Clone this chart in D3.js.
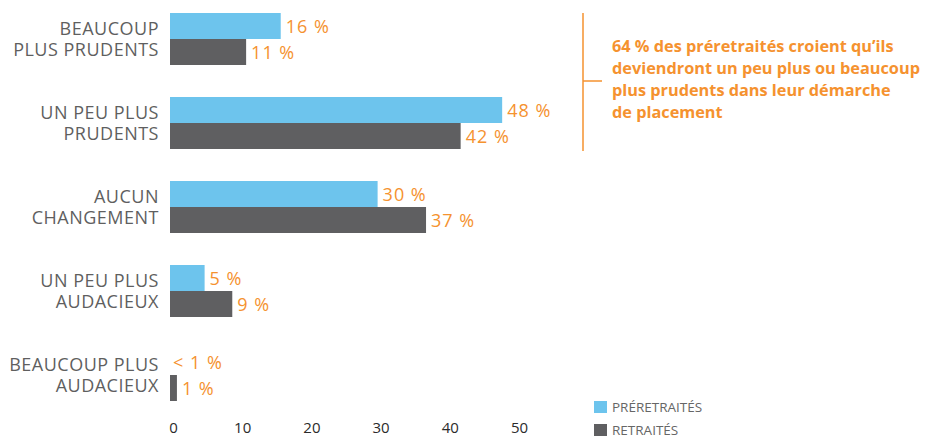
<!DOCTYPE html>
<html>
<head>
<meta charset="utf-8">
<script src="https://d3js.org/d3.v7.min.js"></script>
<style>
  body { margin: 0; background: #fff; }
  svg { font-family: "Open Sans", sans-serif; }
</style>
</head>
<body>
<svg width="930" height="439"></svg>
<script>
// categories (two lines each)
let categories = [
  ['BEAUCOUP', 'PLUS PRUDENTS'],
  ['UN PEU PLUS', 'PRUDENTS'],
  ['AUCUN', 'CHANGEMENT'],
  ['UN PEU PLUS', 'AUDACIEUX'],
  ['BEAUCOUP PLUS', 'AUDACIEUX']
]
let series = ['PRÉRETRAITÉS', 'RETRAITÉS']
let preretraites = [16, 48, 30, 5, 0]
let retraites = [11, 42, 37, 9, 1]
let preretraitesLabels = ['16 %', '48 %', '30 %', '5 %', '< 1 %']
let retraitesLabels = ['11 %', '42 %', '37 %', '9 %', '1 %']
let ticks = [0, 10, 20, 30, 40, 50]
let note = [
  '64 % des préretraités croient qu’ils',
  'deviendront un peu plus ou beaucoup',
  'plus prudents dans leur démarche',
  'de placement'
]

let colors = ['#6dc4ed', '#5f5f61']
let orange = '#f5922f'

let rows = categories.map((c, i) => ({
  key: i,
  lines: c,
  values: [
    { s: 0, v: preretraites[i], label: preretraitesLabels[i] },
    { s: 1, v: retraites[i], label: retraitesLabels[i] }
  ]
}))

let svg = d3.select('svg')

let xScale = d3.scaleLinear()
                .domain([0, 50])
                .range([170, 516])

let yScale = d3.scaleBand()
                .domain(rows.map(d => d.key))
                .range([13, 401])
                .paddingInner(32 / 84)
                .paddingOuter(0)

let subScale = d3.scaleBand()
                .domain([0, 1])
                .range([0, yScale.bandwidth()])

let groups = svg.selectAll('g.row')
  .data(rows)
  .enter()
  .append('g')
    .attr('class', 'row')
    .attr('transform', d => `translate(0, ${yScale(d.key)})`)

groups.selectAll('rect')
  .data(d => d.values)
  .enter()
  .append('rect')
    .attr('x', xScale(0))
    .attr('y', d => subScale(d.s))
    .attr('width', d => xScale(d.v) - xScale(0))
    .attr('height', subScale.bandwidth())
    .attr('fill', d => colors[d.s])

groups.selectAll('text.val')
  .data(d => d.values)
  .enter()
  .append('text')
    .attr('class', 'val')
    .attr('x', d => xScale(d.v) + (d.v > 0 ? 5 : 3))
    .attr('y', d => subScale(d.s) + subScale.bandwidth() / 2 + 7)
    .attr('fill', orange)
    .style('font-size', '18px')
    .style('letter-spacing', '1px')
    .text(d => d.label)

// category labels, one text per line
groups.selectAll('text.cat')
  .data(d => d.lines)
  .enter()
  .append('text')
    .attr('class', 'cat')
    .attr('x', 159)
    .attr('y', (d, i) => yScale.bandwidth() / 2 - 4 + i * 21)
    .style('text-anchor', 'end')
    .style('font-size', '18px')
    .style('letter-spacing', '0.5px')
    .attr('fill', '#5f5f5f')
    .text(d => d)

// x axis: labels only
let xAxis = d3.axisBottom(xScale)
              .tickValues(ticks)
              .tickSize(0)
              .tickPadding(0)

svg.append('g')
    .attr('transform', 'translate(3, 422)')
    .call(xAxis)
    .call(g => g.select('.domain').remove())
    .call(g => g.selectAll('text')
      .attr('fill', '#2b2b2b')
      .style('font-family', '"Open Sans", sans-serif')
      .style('font-size', '15px'))

// annotation bracket
svg.append('line')
    .attr('x1', 583).attr('x2', 583)
    .attr('y1', 13).attr('y2', 151)
    .attr('stroke', orange)
    .attr('stroke-width', 1.5)

svg.append('line')
    .attr('x1', 583).attr('x2', 602)
    .attr('y1', 81).attr('y2', 81)
    .attr('stroke', orange)
    .attr('stroke-width', 1.5)

svg.selectAll('text.note')
  .data(note)
  .enter()
  .append('text')
    .attr('class', 'note')
    .attr('x', 612)
    .attr('y', (d, i) => 52 + i * 22)
    .attr('fill', orange)
    .style('font-size', '16.3px')
    .style('font-weight', 'bold')
    .text(d => d)

// legend
let legend = svg.selectAll('g.legend')
  .data(series)
  .enter()
  .append('g')
    .attr('class', 'legend')
    .attr('transform', (d, i) => `translate(594, ${401 + i * 23})`)

legend.append('rect')
    .attr('width', 13)
    .attr('height', 12)
    .attr('fill', (d, i) => colors[i])

legend.append('text')
    .attr('x', 18)
    .attr('y', 11)
    .attr('fill', '#666')
    .style('font-size', '13.5px')
    .text(d => d)
</script>
</body>
</html>
